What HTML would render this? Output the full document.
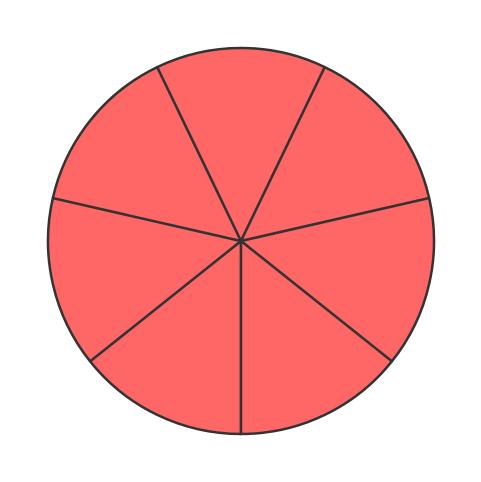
<!DOCTYPE html>
<html><head><meta charset="utf-8"><style>
html,body{margin:0;padding:0;background:#fff;width:481px;height:482px;overflow:hidden}
</style></head><body>
<svg id="chart" width="481" height="482" viewBox="0 0 481 482"></svg>
<script>
const categories = ["A","B","C","D","E","F","G"];
const values = [1,1,1,1,1,1,1];
const startAngle = 180; // degrees clockwise from top
const cx = 241, cy = 241, r = 193;
const svg = document.getElementById('chart');
const ns = 'http://www.w3.org/2000/svg';
const total = values.reduce((a,b)=>a+b,0);
function pt(deg){const a=deg*Math.PI/180;return [cx+r*Math.sin(a), cy-r*Math.cos(a)];}
let ang = startAngle;
values.forEach((v,i)=>{
  const sweep = v/total*360;
  const [x1,y1]=pt(ang), [x2,y2]=pt(ang+sweep);
  const p=document.createElementNS(ns,'path');
  p.setAttribute('d',`M${cx},${cy} L${x1},${y1} A${r},${r} 0 ${sweep>180?1:0} 1 ${x2},${y2} Z`);
  p.setAttribute('fill','#ff6666');
  p.setAttribute('stroke','#333333');
  p.setAttribute('stroke-width','2.5');
  p.setAttribute('stroke-linejoin','round');
  
  
  svg.appendChild(p);
  ang += sweep;
});
</script>
</body></html>
